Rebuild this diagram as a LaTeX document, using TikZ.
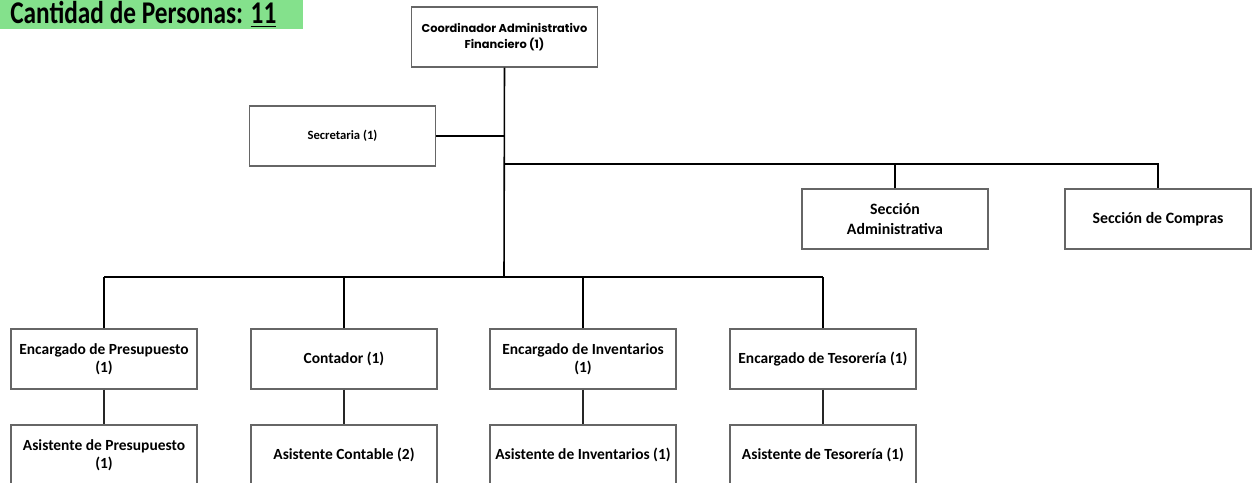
\documentclass[tikz,border=0pt]{standalone}
\usepackage{fontspec}
\setmainfont{Carlito}
\newfontfamily\gotica{Poppins}
\newfontfamily\estrecha[FakeStretch=0.8]{Carlito}
\definecolor{verde}{RGB}{132,225,140}
\tikzset{
  puesto/.style={draw=gray!80!black, line width=0.6pt, minimum width=3.72cm, minimum height=1.2cm,
    inner sep=1pt, align=center, font=\bfseries\fontsize{8.8}{10.5}\selectfont},
  rama/.style={line width=0.9pt},
  subrama/.style={line width=0.8pt, gray!30!black}
}
\begin{document}
\begin{tikzpicture}[x=0.02cm,y=-0.02cm]
\useasboundingbox (0,0) rectangle (1252,483);
% cantidad
\fill[verde] (0,0) rectangle (303,29);
\node[anchor=base west, inner sep=0pt, font=\estrecha\bfseries\fontsize{18}{18}\selectfont] (cantidad) at (10,23.5) {Cantidad de Personas: \underline{11}};
% jefatura
\node[puesto, font=\gotica\bfseries\fontsize{6.5}{8.7}\selectfont] (coord) at (504.5,37) {Coordinador Administrativo\\Financiero (1)};
\node[puesto, font=\bfseries\fontsize{7.2}{8}\selectfont] (secre) at (342.5,136) {Secretaria (1)};
\node[puesto, font=\bfseries\fontsize{9}{11.5}\selectfont] (secadm) at (895,219) {Sección\\Administrativa};
\node[puesto, font=\bfseries\fontsize{9}{11}\selectfont] (compras) at (1158,219) {Sección de Compras};
\coordinate (bus) at (504,164);
\coordinate (tronco) at (504,277);
\draw[rama] (coord.south) -- (tronco);
\draw[rama] (secre.east) -- (secre.east -| coord.south);
\draw[rama] (bus) -| (compras.north);
\draw[rama] (secadm.north) -- (secadm.north |- bus);
% encargados y asistentes
\foreach \n/\x/\enc/\asis in {%
  1/104/{Encargado de Presupuesto\\(1)}/{Asistente de Presupuesto\\(1)},
  2/344/{Contador (1)}/{Asistente Contable (2)},
  3/583/{Encargado de Inventarios\\(1)}/{Asistente de Inventarios (1)},
  4/823/{Encargado de Tesorería (1)}/{Asistente de Tesorería (1)}}{%
  \node[puesto] (enc\n) at (\x,359) {\enc};
  \node[puesto] (asis\n) at (\x,455) {\asis};
  \draw[rama] (enc\n.north) -- (enc\n.north |- tronco);
  \draw[subrama] (enc\n.south) -- (asis\n.north);}
\draw[rama] (enc1.north |- tronco) -- (enc4.north |- tronco);
\end{tikzpicture}
\end{document}
